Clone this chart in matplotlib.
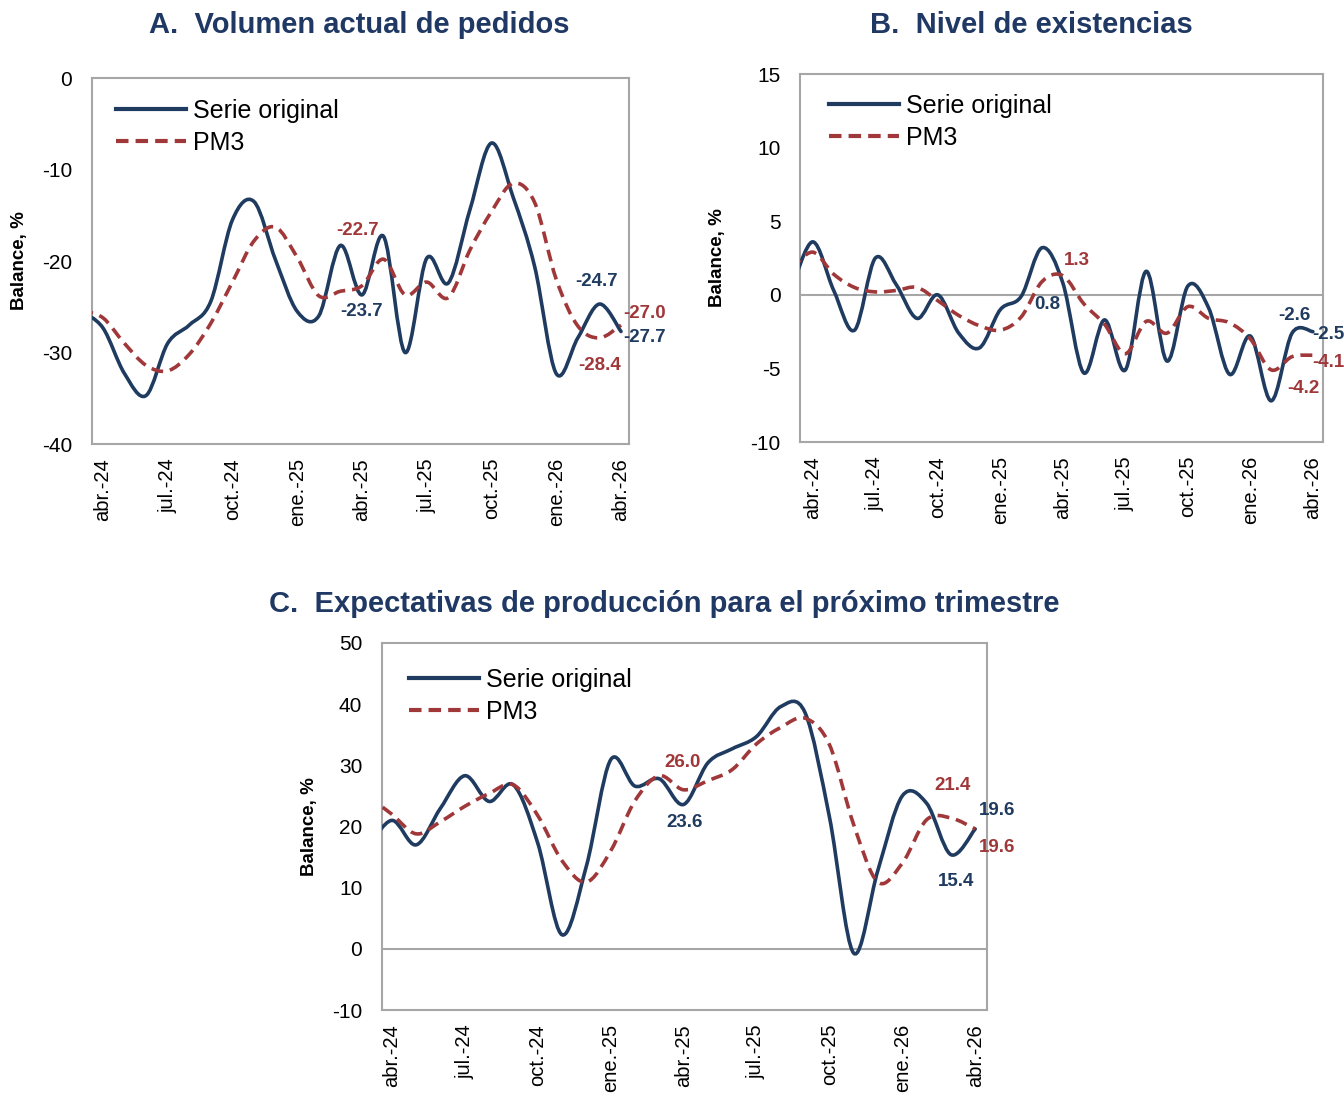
import numpy as np
import matplotlib
matplotlib.use('Agg')
import matplotlib.pyplot as plt
from matplotlib.path import Path
from matplotlib.patches import PathPatch
from matplotlib.lines import Line2D

plt.rcParams['font.family'] = ['Liberation Sans', 'DejaVu Sans']
plt.rcParams['axes.unicode_minus'] = False

# meses (mar.-24 queda fuera del eje, recortado por la izquierda)
meses = ['mar.-24', 'abr.-24', 'may.-24', 'jun.-24', 'jul.-24', 'ago.-24', 'sept.-24',
         'oct.-24', 'nov.-24', 'dic.-24', 'ene.-25', 'feb.-25', 'mar.-25', 'abr.-25',
         'may.-25', 'jun.-25', 'jul.-25', 'ago.-25', 'sept.-25', 'oct.-25', 'nov.-25',
         'dic.-25', 'ene.-26', 'feb.-26', 'mar.-26', 'abr.-26']

# A. Volumen actual de pedidos
a_orig = [-25.5, -27.3, -32.3, -34.7, -29.0, -27.0, -24.4, -15.5, -13.5, -19.9, -25.5, -26.0, -18.3,
          -23.7, -17.3, -30.0, -19.7, -22.4, -14.4, -7.1, -13.0, -20.6, -32.3, -28.4, -24.7, -27.7]
a_pm3 = [-25.4, -26.2, -29.0, -31.4, -32.0, -30.2, -26.8, -22.3, -17.8, -16.3, -19.6, -23.8, -23.3,
         -22.7, -19.8, -23.7, -22.3, -24.0, -18.8, -14.6, -11.5, -13.6, -22.0, -27.1, -28.4, -27.0]

# B. Nivel de existencias
b_orig = [0.5, 3.6, 0.3, -2.4, 2.5, 0.7, -1.6, 0.0, -2.6, -3.6, -1.0, -0.1, 3.2,
          0.8, -5.3, -1.7, -5.1, 1.6, -4.5, 0.6, -0.9, -5.4, -2.8, -7.2, -2.6, -2.5]
b_pm3 = [1.8, 2.9, 1.4, 0.5, 0.2, 0.3, 0.5, -0.4, -1.4, -2.1, -2.4, -1.5, 0.9,
         1.3, -0.6, -2.0, -4.0, -1.8, -2.6, -0.8, -1.6, -1.9, -3.0, -5.1, -4.2, -4.1]

# C. Expectativas de producción
c_orig = [16.5, 21.0, 17.0, 23.0, 28.3, 24.1, 26.8, 17.3, 2.3, 13.5, 30.9, 26.6, 27.8,
          23.6, 30.4, 32.7, 34.7, 39.6, 38.6, 21.6, -0.7, 12.9, 25.0, 23.8, 15.4, 19.6]
c_pm3 = [25.0, 22.0, 18.8, 20.8, 23.3, 25.4, 26.8, 21.8, 14.4, 10.9, 16.0, 24.2, 28.3,
         26.0, 27.5, 29.3, 33.5, 36.2, 37.7, 33.4, 20.3, 10.9, 14.0, 21.1, 21.4, 19.6]

AZUL = '#1f3b60'
ROJO = '#a0383a'
GRIS = '#a6a6a6'
TITULO = '#1f3864'

x = np.arange(len(meses)) - 1


def curva(xs, ys):
    # curva suavizada tipo Excel (Bezier cúbica por los puntos)
    p = np.column_stack([xs, ys]).astype(float)
    n = len(p)
    verts = [p[0]]
    codes = [Path.MOVETO]
    for i in range(n - 1):
        p0 = p[i - 1] if i > 0 else p[i]
        p3 = p[i + 2] if i + 2 < n else p[i + 1]
        verts += [p[i] + (p[i + 1] - p0) / 6, p[i + 1] - (p3 - p[i]) / 6, p[i + 1]]
        codes += [Path.CURVE4] * 3
    return Path(verts, codes)


def panel(rect, serie, pm3, ylim, yticks, xlim, cero, leg_xy, ylab_x, etiquetas):
    ax = fig.add_axes(rect)
    ax.add_patch(PathPatch(curva(x, serie), fill=False, edgecolor=AZUL, lw=2.6,
                           capstyle='round', joinstyle='round', zorder=3))
    ax.add_patch(PathPatch(curva(x, pm3), fill=False, edgecolor=ROJO, lw=2.6,
                           linestyle=(0, (3.3, 1.9)), zorder=4))
    if cero:
        ax.axhline(0, color=GRIS, lw=1.5, zorder=1)
    ax.set_xlim(*xlim)
    ax.set_ylim(*ylim)
    ax.set_yticks(yticks)
    ax.set_xticks(x[1::3])
    ax.set_xticklabels(meses[1::3], rotation=90, fontsize=14.5)
    ax.tick_params(axis='y', length=0, pad=14, labelsize=15)
    ax.tick_params(axis='x', length=0, pad=10)
    for s in ax.spines.values():
        s.set_color(GRIS)
        s.set_linewidth(1.5)
    ax.set_ylabel('Balance, %', fontsize=13.5, fontweight='bold')
    ax.yaxis.set_label_coords(ylab_x, 0.5)
    h = [Line2D([], [], color=AZUL, lw=3.0), Line2D([], [], color=ROJO, lw=3.0, linestyle=(0, (3.0, 1.7)))]
    ax.legend(h, ['Serie original', 'PM3'], loc='upper left', bbox_to_anchor=leg_xy, frameon=False,
              fontsize=18, handlelength=2.8, handletextpad=0.3, labelspacing=0.33,
              borderaxespad=0, borderpad=0)
    for datos, idx, dx, dy, col in etiquetas:
        ax.annotate(f'{datos[idx + 1]:.1f}', (x[idx + 1], datos[idx + 1]), xytext=(dx, dy),
                    textcoords='offset points', ha='center', va='center', color=col,
                    fontsize=13.5, fontweight='bold', annotation_clip=False)
    return ax


fig = plt.figure(figsize=(13.44, 10.95), dpi=100)

panel([0.0682, 0.5945, 0.3998, 0.3342], a_orig, a_pm3, (-40, 0), [-40, -30, -20, -10, 0],
      (-0.52, 24.37), False, (0.045, 0.943), -0.119,
      [(a_pm3, 12, -3, 39.5, ROJO), (a_orig, 12, 0, -12, AZUL),
       (a_orig, 23, -2, 16.5, AZUL), (a_pm3, 23, 0, -20, ROJO),
       (a_pm3, 24, 17, 8.6, ROJO), (a_orig, 24, 17, -4.5, AZUL)])

panel([0.5952, 0.5963, 0.3894, 0.3361], b_orig, b_pm3, (-10, 15), [-10, -5, 0, 5, 10, 15],
      (-0.62, 24.5), True, (0.055, 0.946), -0.141,
      [(b_pm3, 12, 10, 10.7, ROJO), (b_orig, 12, -11.5, -15.6, AZUL),
       (b_orig, 23, 2, 13, AZUL), (b_pm3, 23, 8, -22.6, ROJO),
       (b_orig, 24, 11, -2, AZUL), (b_pm3, 24, 11, -5, ROJO)])

panel([0.2840, 0.0776, 0.4501, 0.3352], c_orig, c_pm3, (-10, 50), [-10, 0, 10, 20, 30, 40, 50],
      (-0.42, 24.47), True, (0.045, 0.933), -0.105,
      [(c_pm3, 12, -1, 19.4, ROJO), (c_orig, 12, 1, -13, AZUL),
       (c_pm3, 23, 1.5, 23.7, ROJO), (c_orig, 23, 3.6, -19.5, AZUL),
       (c_orig, 24, 16, 13, AZUL), (c_pm3, 24, 16, -13, ROJO)])

fig.text(359 / 1344, 1 - 25 / 1095, 'A.  Volumen actual de pedidos', ha='center', va='center',
         fontsize=21, fontweight='bold', color=TITULO)
fig.text(1031 / 1344, 1 - 25 / 1095, 'B.  Nivel de existencias', ha='center', va='center',
         fontsize=21, fontweight='bold', color=TITULO)
fig.text(664 / 1344, 1 - 604 / 1095, 'C.  Expectativas de producción para el próximo trimestre',
         ha='center', va='center', fontsize=21, fontweight='bold', color=TITULO)

fig.savefig('out.png', dpi=100)
